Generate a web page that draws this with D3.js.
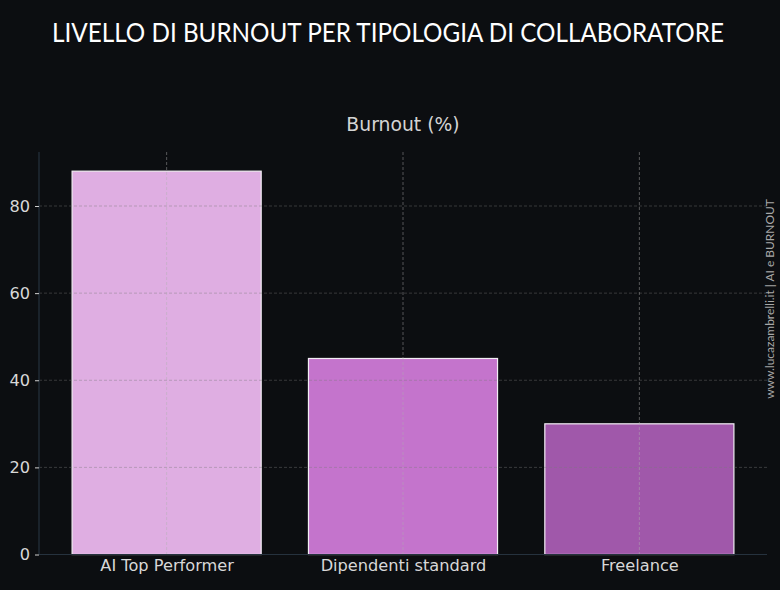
<!DOCTYPE html>
<html><head><meta charset="utf-8">
<script src="https://cdn.jsdelivr.net/npm/d3@7"></script>
<style>body{margin:0;background:#0c0e11;}svg{display:block;}</style>
</head><body>
<script>
const categories = ["AI Top Performer", "Dipendenti standard", "Freelance"];
const values = [88, 45, 30];
const colors = ["#dfaee2", "#c474cc", "#a058aa"];
const yTicks = [0, 20, 40, 60, 80];
const title = "LIVELLO DI BURNOUT PER TIPOLOGIA DI COLLABORATORE";
const subtitle = "Burnout (%)";
const watermark = "www.lucazambrelli.it | AI e BURNOUT";

const W = 780, H = 590;
const m = {left: 39, right: 767, top: 152, bottom: 554.5};
const svg = d3.select("body").append("svg").attr("width", W).attr("height", H);
svg.append("rect").attr("width", W).attr("height", H).attr("fill", "#0c0e11");

const x = d3.scaleLinear().domain([-0.54, 2.54]).range([m.left, m.right]);
const y = d3.scaleLinear().domain([0, 92.4]).range([m.bottom, m.top]);
const bw = x(0.8) - x(0);

// bars
svg.selectAll("rect.bar").data(values).enter().append("rect")
  .attr("class", "bar")
  .attr("x", (d, i) => x(i) - bw / 2)
  .attr("y", d => y(d))
  .attr("width", bw)
  .attr("height", d => y(0) - y(d))
  .attr("fill", (d, i) => colors[i])
  .attr("stroke", "#f2eef4").attr("stroke-width", 1.2);

// grid
const g = svg.append("g");
g.selectAll("line.h").data(yTicks.slice(1)).enter().append("line")
  .attr("x1", m.left).attr("x2", m.right)
  .attr("y1", d => y(d)).attr("y2", d => y(d))
  .attr("stroke", "#7a7a7a").attr("stroke-opacity", 0.45)
  .attr("stroke-dasharray", "3,2").attr("stroke-width", 0.9);
g.selectAll("line.v").data(categories).enter().append("line")
  .attr("x1", (d, i) => x(i)).attr("x2", (d, i) => x(i))
  .attr("y1", m.top).attr("y2", m.bottom)
  .attr("stroke", "#b0b0b0").attr("stroke-opacity", 0.5)
  .attr("stroke-dasharray", "3,2").attr("stroke-width", 0.9);

// spines
svg.append("line").attr("x1", m.left).attr("x2", m.left).attr("y1", m.top).attr("y2", m.bottom)
  .attr("stroke", "#26323e").attr("stroke-width", 1.2);
svg.append("line").attr("x1", m.left).attr("x2", m.right).attr("y1", m.bottom).attr("y2", m.bottom)
  .attr("stroke", "#26323e").attr("stroke-width", 1.2);

// y axis
const yAxis = d3.axisLeft(y).tickValues(yTicks).tickSize(4).tickPadding(5).tickFormat(d3.format("d"));
const ya = svg.append("g").attr("transform", `translate(${m.left},0)`).call(yAxis);
ya.select(".domain").remove();
ya.selectAll(".tick line").attr("stroke", "#cfcfcf");
ya.selectAll(".tick text").attr("fill", "#d8d8d8").attr("font-family", "DejaVu Sans").attr("font-size", 16.2);

// x labels
const xAxis = d3.axisBottom(x).tickValues([0, 1, 2]).tickSize(0).tickPadding(5).tickFormat(i => categories[i]);
const xa = svg.append("g").attr("transform", `translate(0,${m.bottom})`).call(xAxis);
xa.select(".domain").remove();
xa.selectAll(".tick text").attr("fill", "#d8d8d8").attr("font-family", "DejaVu Sans").attr("font-size", 16.2);

// title: fit natural width to 672px, then stretch vertically to the reference cap height
const tg = svg.append("g");
const tt = tg.append("text").attr("x", 0).attr("y", 0).attr("text-anchor", "middle")
  .attr("fill", "#ffffff").attr("font-family", "Lato").attr("font-weight", 400).attr("font-size", 27)
  .text(title);
const natural = tt.node().getComputedTextLength();
const fs = 27 * 672 / natural;
tt.attr("font-size", fs);
tg.attr("transform", `translate(388,42) scale(1,${27 / fs})`);

svg.append("text").attr("x", x(1)).attr("y", 131).attr("text-anchor", "middle")
  .attr("fill", "#d4d4d4").attr("font-family", "DejaVu Sans").attr("font-size", 18.8).text(subtitle);

// watermark
const wg = svg.append("g").attr("transform", "translate(774,299) rotate(-90)");
const wt = wg.append("text").attr("text-anchor", "middle")
  .attr("fill", "#a8a8a8").attr("font-family", "Lato").attr("font-size", 11.5).text(watermark);
const wn = wt.node().getComputedTextLength();
wt.attr("font-size", 11.5 * 200 / wn);
wg.attr("transform", `translate(774,299) rotate(-90) scale(1,${11.5 / (11.5 * 200 / wn)})`);
</script>
</body></html>
